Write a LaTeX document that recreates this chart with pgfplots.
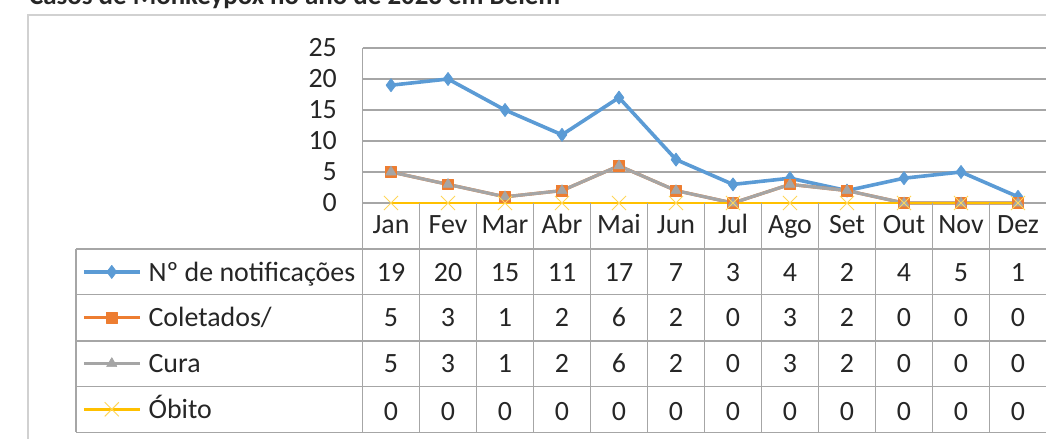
\documentclass[border=0pt]{standalone}
\usepackage{pgfplots}
\pgfplotsset{compat=1.18}
\usepackage{fontspec}
\setmainfont{Carlito}
\definecolor{cblue}{HTML}{5B9BD5}
\definecolor{corange}{HTML}{ED7D31}
\definecolor{cgray}{HTML}{A5A5A5}
\definecolor{cyellow}{HTML}{FFC000}
\definecolor{gridc}{HTML}{A6A6A6}
\definecolor{txt}{HTML}{262626}
\newcommand{\fs}{\fontsize{28}{34}\selectfont}
\begin{document}
\begin{tikzpicture}
\draw[color=black!18, line width=1.2bp] (28bp,-5bp) -- (28bp,424bp) -- (1060bp,424bp);
\node[anchor=base west, font=\bfseries\fontsize{27}{32}\selectfont, text=txt, inner sep=0pt] at (29bp,434bp) {Casos de Monkeypox no ano de 2023 em Belém};
\begin{axis}[
  at={(362.5bp,236bp)}, anchor=south west,
  scale only axis, width=684bp, height=155bp,
  xmin=-0.5, xmax=11.5, ymin=0, ymax=25,
  xtick={0,...,11}, xticklabels={Jan,Fev,Mar,Abr,Mai,Jun,Jul,Ago,Set,Out,Nov,Dez},
  ytick={0,5,...,25},
  major tick length=0pt,
  axis line style={draw=none},
  ymajorgrids, grid style={gridc, line width=1.2bp},
  clip=false,
  /pgf/number format/assume math mode=true,
  ticklabel style={font=\fs, text=txt},
  xticklabel style={anchor=base, inner sep=0pt, yshift=-30bp},
  yticklabel style={anchor=east, inner sep=0pt, xshift=-25.5bp},
  legend cell align=left,
  legend style={at={(-0.41009,-0.29677)}, anchor=north west, draw=none, fill=none,
    inner sep=0pt, outer sep=0pt, row sep=0pt, column sep=7bp,
    nodes={inner sep=0pt, anchor=west, text height=32bp, text depth=13.8bp, font=\fs, text=txt}},
  legend image code/.code={\draw[mark repeat=2,mark phase=2] plot coordinates {(0bp,0bp) (28bp,0bp) (56bp,0bp)};},
]
\addplot[cblue, line width=3.6bp, line join=round, mark=diamond*, mark size=6.5bp,
  mark options={solid, fill=cblue, draw=cblue, line width=0.8bp}]
  coordinates {(0,19)(1,20)(2,15)(3,11)(4,17)(5,7)(6,3)(7,4)(8,2)(9,4)(10,5)(11,1)};
\addlegendentry{Nº de notificações}
\addplot[corange, line width=3.2bp, line join=round, mark=square*, mark size=5.3bp,
  mark options={solid, fill=corange, draw=corange, line width=0.5bp}]
  coordinates {(0,5)(1,3)(2,1)(3,2)(4,6)(5,2)(6,0)(7,3)(8,2)(9,0)(10,0)(11,0)};
\addlegendentry{Coletados/}
\addplot[cgray, line width=3.2bp, line join=round, mark=triangle*, mark size=6bp,
  mark options={solid, fill=cgray, draw=cgray, line width=0.5bp}]
  coordinates {(0,5)(1,3)(2,1)(3,2)(4,6)(5,2)(6,0)(7,3)(8,2)(9,0)(10,0)(11,0)};
\addlegendentry{Cura}
\addplot[cyellow, line width=2.8bp, line join=round, mark=x, mark size=10bp,
  mark options={solid, draw=cyellow!65, line width=1bp}]
  coordinates {(0,0)(1,0)(2,0)(3,0)(4,0)(5,0)(6,0)(7,0)(8,0)(9,0)(10,0)(11,0)};
\addlegendentry{Óbito}
\end{axis}
% data table grid
\draw[gridc, line width=1.2bp] (362.5bp,391bp) -- (362.5bp,6.7bp);
\foreach \k in {1,...,12} \draw[gridc, line width=1.2bp] ({362.5bp+57bp*\k},236bp) -- ({362.5bp+57bp*\k},6.7bp);
\foreach \yy in {190,144.7,98,52.3,6.7} \draw[gridc, line width=1.2bp] (76bp,\yy bp) -- (1060bp,\yy bp);
\draw[gridc, line width=1.2bp] (76bp,190bp) -- (76bp,6.7bp);
% table values
\foreach \v [count=\i from 0] in {19,20,15,11,17,7,3,4,2,4,5,1}
  \node[anchor=base, font=\fs, text=txt, inner sep=0pt] at ({391bp+57bp*\i},157.5bp) {\v};
\foreach \v [count=\i from 0] in {5,3,1,2,6,2,0,3,2,0,0,0}
  \node[anchor=base, font=\fs, text=txt, inner sep=0pt] at ({391bp+57bp*\i},112bp) {\v};
\foreach \v [count=\i from 0] in {5,3,1,2,6,2,0,3,2,0,0,0}
  \node[anchor=base, font=\fs, text=txt, inner sep=0pt] at ({391bp+57bp*\i},66bp) {\v};
\foreach \v [count=\i from 0] in {0,0,0,0,0,0,0,0,0,0,0,0}
  \node[anchor=base, font=\fs, text=txt, inner sep=0pt] at ({391bp+57bp*\i},18.5bp) {\v};
\pgfresetboundingbox
\useasboundingbox (0bp,0bp) rectangle (1046bp,439bp);
\end{tikzpicture}
\end{document}
